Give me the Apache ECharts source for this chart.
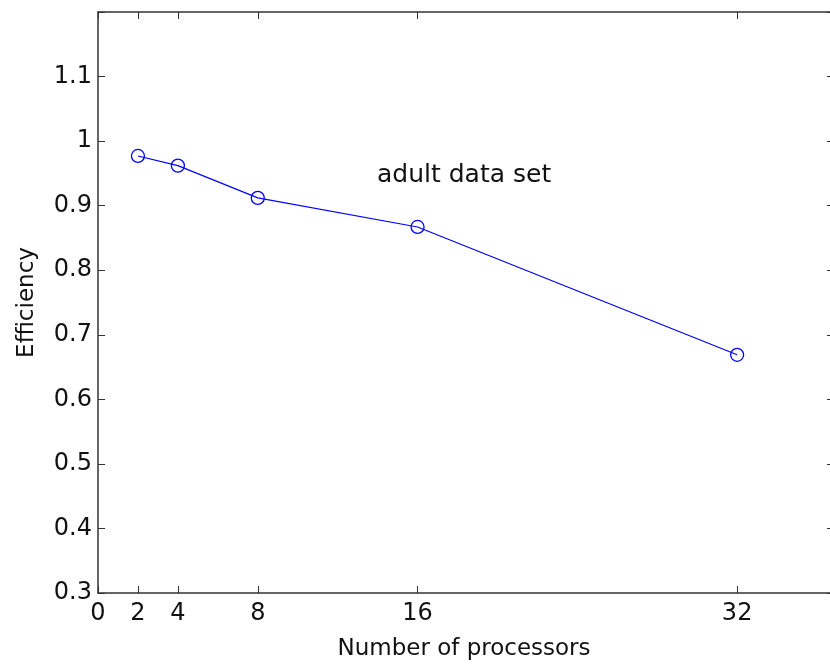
<!DOCTYPE html>
<html>
<head>
<meta charset="utf-8">
<script src="https://cdn.jsdelivr.net/npm/echarts@6/dist/echarts.min.js"></script>
<style>
  html, body { margin: 0; padding: 0; background: #fff; overflow: hidden; }
  #chart { width: 830px; height: 669px; }
</style>
</head>
<body>
<div id="chart"></div>
<script>
// data
const processors = [2, 4, 8, 16, 32];
const efficiency = [0.977, 0.962, 0.912, 0.867, 0.669];
const xTicks = [0, 2, 4, 8, 16, 32];

const font = 'DejaVu Sans, sans-serif';
const axisColor = '#333';
const textColor = '#111';

const chart = echarts.init(document.getElementById('chart'));

// y labels: 0.3 ... 1.1, the top one (1.2) stays empty
function fmtY(v) {
    const r = Math.round(v * 10) / 10;
    if (r > 1.15) return '';
    return String(r);
}

const option = {
    animation: false,
    grid: {
        left: 98,
        top: 12,
        right: 0,
        bottom: 76,
    },
    xAxis: [
        {
            type: 'value',
            min: 0,
            max: 36.65,
            name: 'Number of processors',
            nameLocation: 'middle',
            nameGap: 45,
            nameTextStyle: { fontFamily: font, fontSize: 23, color: textColor },
            axisLine: { onZero: false, lineStyle: { color: axisColor, width: 1.5 } },
            axisTick: { inside: true, length: 7, customValues: xTicks, lineStyle: { color: axisColor } },
            axisLabel: { customValues: xTicks, fontFamily: font, fontSize: 24, color: textColor, margin: 9 },
            splitLine: { show: false },
        },
        {
            type: 'value',
            position: 'top',
            min: 0,
            max: 36.65,
            axisLine: { onZero: false, lineStyle: { color: axisColor, width: 1.5 } },
            axisTick: { inside: true, length: 7, customValues: xTicks, lineStyle: { color: axisColor } },
            axisLabel: { show: false },
            splitLine: { show: false },
        }
    ],
    yAxis: [
        {
            type: 'value',
            min: 0.3,
            max: 1.2,
            interval: 0.1,
            name: 'Efficiency',
            nameLocation: 'middle',
            nameGap: 59,
            nameTextStyle: { fontFamily: font, fontSize: 23, color: textColor },
            axisLine: { show: true, onZero: false, lineStyle: { color: axisColor, width: 1.5 } },
            axisTick: { show: true, inside: true, length: 7, lineStyle: { color: axisColor } },
            axisLabel: { formatter: fmtY, fontFamily: font, fontSize: 24, color: textColor, margin: 6 },
            splitLine: { show: false },
        },
        {
            // right border is cut off in the original, only tick stubs show
            type: 'value',
            position: 'right',
            min: 0.3,
            max: 1.2,
            interval: 0.1,
            axisLine: { show: false, onZero: false },
            axisTick: { show: true, inside: true, length: 3, lineStyle: { color: axisColor } },
            axisLabel: { show: false },
            splitLine: { show: false },
        }
    ],
    graphic: [
        {
            type: 'text',
            left: 377,
            top: 163,
            style: { text: 'adult data set', fontFamily: font, fontSize: 25, fill: textColor },
        }
    ],
    series: [
        {
            type: 'line',
            data: processors.map((p, i) => [p, efficiency[i]]),
            symbol: 'circle',
            symbolSize: 13,
            lineStyle: { color: '#0000ff', width: 1.2 },
            itemStyle: { color: 'rgba(0,0,0,0)', borderColor: '#0000ff', borderWidth: 1.3 },
        }
    ]
};

chart.setOption(option);
</script>
</body>
</html>
